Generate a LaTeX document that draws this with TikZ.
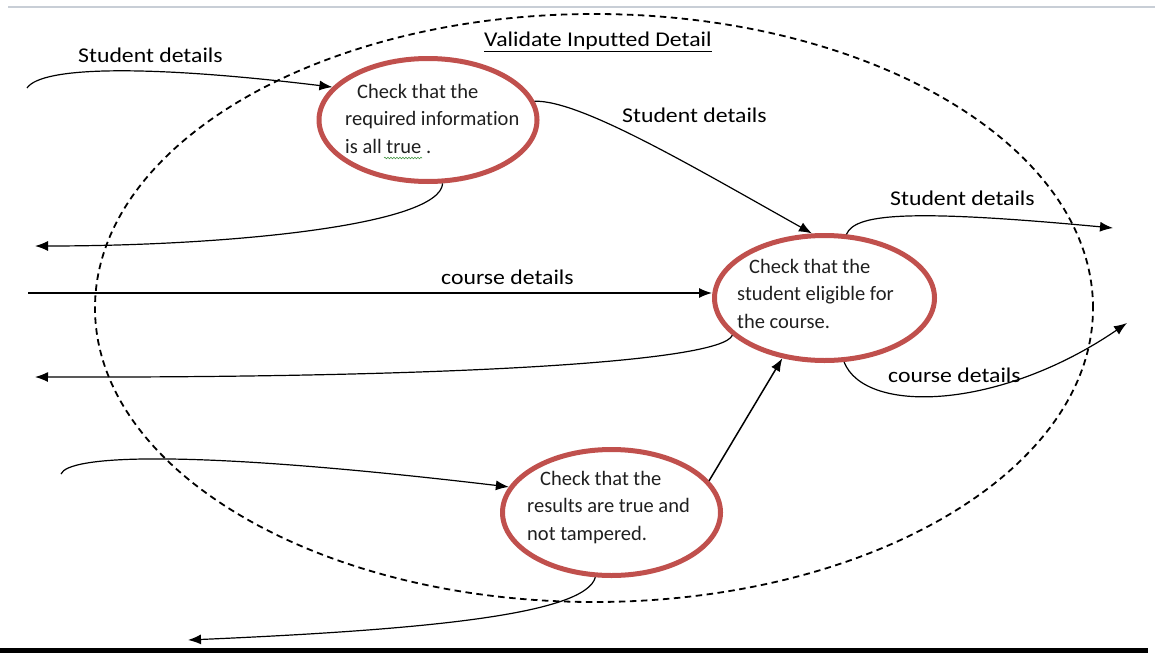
\documentclass[tikz,border=0pt]{standalone}
\usepackage{fontspec}
\setmainfont{Carlito}[Ligatures=NoCommon]
\newfontfamily\lblfont[FakeStretch=1.13,Ligatures=NoCommon]{Carlito}
\usetikzlibrary{shapes.geometric,arrows.meta,calc,decorations.pathmorphing}
\definecolor{procred}{RGB}{192,80,77}
\definecolor{rulegray}{RGB}{200,206,214}
\definecolor{spellgreen}{RGB}{70,150,70}

\begin{document}
\begin{tikzpicture}[x=1pt,y=-1pt,
  process/.style={ellipse, draw=procred, line width=5pt, inner sep=0pt},
  proctext/.style={anchor=north west, inner sep=0pt, align=left,
    font=\fontsize{20.5}{27.5}\selectfont, text=black!88},
  flowlabel/.style={anchor=base west, inner sep=0pt,
    font=\lblfont\fontsize{21}{25}\selectfont},
  flow/.style={line width=1.2pt, -{Latex[length=13pt,width=10pt]}},
  boundary/.style={ellipse, draw, line width=1.8pt,
    dash pattern=on 6.5pt off 4.5pt, inner sep=0pt}]

\useasboundingbox (0,0) rectangle (1155,653);

% page rules
\draw[rulegray, line width=1.5pt] (8,7) -- (1155,7);
\fill[black] (0,648) rectangle (1148,653);

% process boundary
\node[boundary, minimum width=998pt, minimum height=588pt] (scope) at (594,308) {};
\node[flowlabel] (title) at (484,46) {\underline{Validate Inputted Detail}};

% processes
\node[process, minimum width=218pt, minimum height=123pt] (e1) at (428,120) {};
\node[process, minimum width=220pt, minimum height=125pt] (e2) at (824.5,298) {};
\node[process, minimum width=218pt, minimum height=126pt] (e3) at (611.5,512.5) {};

\node[proctext] (t1) at (345,84) {\hspace*{12pt}Check that the\\required information\\is all true .};
\node[proctext] (t2) at (737,259) {\hspace*{12pt}Check that the\\student eligible for\\the course.};
\node[proctext] (t3) at (527,471) {\hspace*{13pt}Check that the\\results are true and\\not tampered.};

% spelling squiggle under "true"
\draw[spellgreen, line width=0.6pt, decorate,
  decoration={snake, amplitude=0.8pt, segment length=3pt}] (384,158) -- (422,158);

% flow labels
\node[flowlabel] (lab1) at (78,62) {Student details};
\node[flowlabel] (lab2) at (622,122) {Student details};
\node[flowlabel] (lab3) at (890,205) {Student details};
\node[flowlabel] (lab4) at (441,284) {course details};
\node[flowlabel] (lab5) at (888,382) {course details};

% free ends of the flows
\coordinate (in1) at (27,88);
\coordinate (out1) at (35,246);
\coordinate (in2) at (28,293);
\coordinate (out2) at (35,377);
\coordinate (in3) at (61,474);
\coordinate (out3) at (188,640);
\coordinate (out4) at (1113,228);
\coordinate (out5) at (1127,323);

% flows
\draw[flow] (in1) .. controls (42,66) and (150,65) .. (e1.161);
\draw[flow] (e1.283) .. controls (440,225) and (230,246) .. (out1);
\draw[flow] (e1.10) .. controls (580,100) and (690,165) .. (e2.101);
\draw[flow, line width=1.4pt] (in2) -- (in2 -| e2.west);
\draw[flow] (e2.202) .. controls (722,362) and (450,378) .. (out2);
\draw[flow] (in3) .. controls (68,456) and (180,448) .. (e3.166);
\draw[flow, line width=1.5pt] (e3.18) -- (e2.235);
\draw[flow] (e3.256) .. controls (585,615) and (420,630) .. (out3);
\draw[flow] (e2.71) .. controls (855,215) and (900,208) .. (out4);
\draw[flow] (e2.287) .. controls (865,415) and (1000,410) .. (out5);

\end{tikzpicture}
\end{document}
